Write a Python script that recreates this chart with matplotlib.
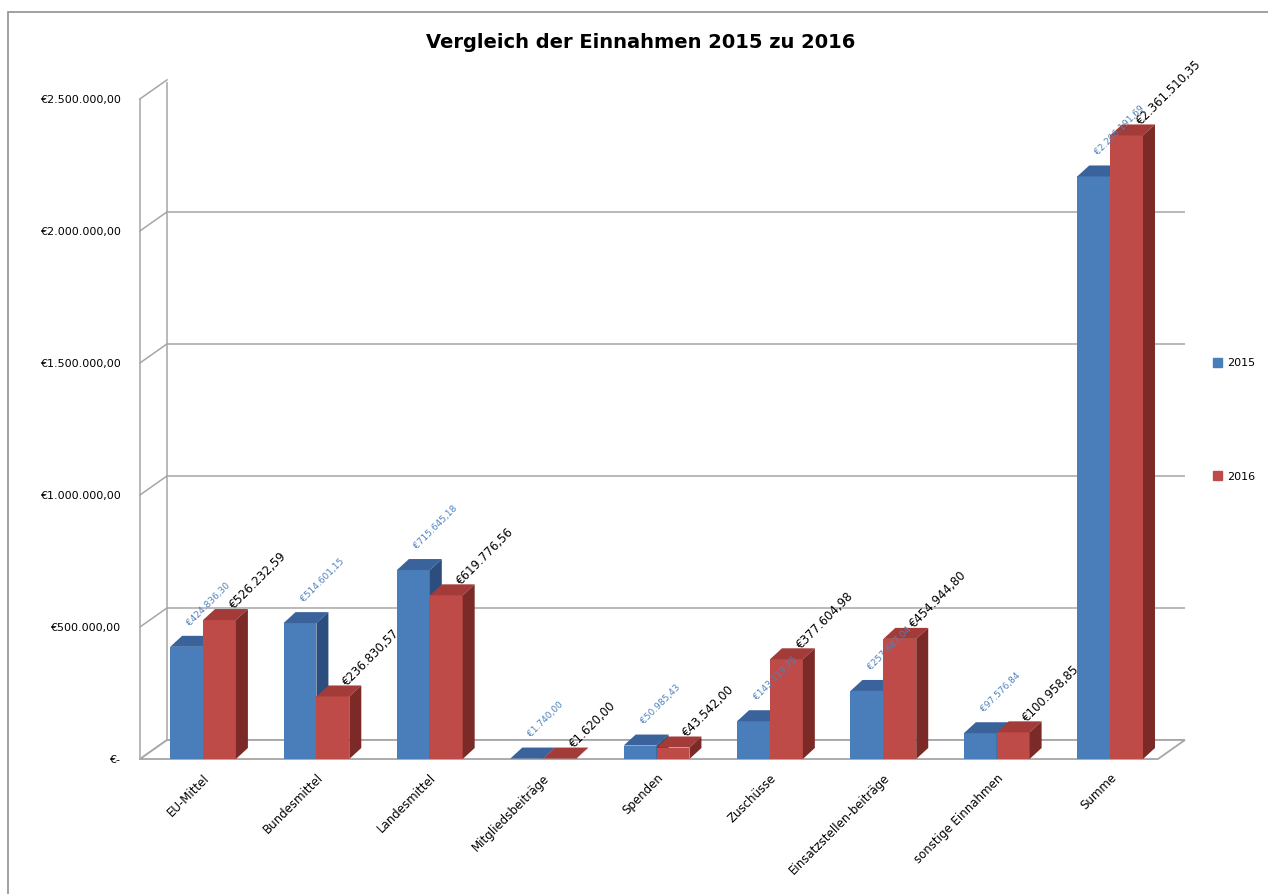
import matplotlib
matplotlib.use('Agg')
import matplotlib.pyplot as plt
from matplotlib.patches import Polygon, Rectangle, Patch
import numpy as np

# data
categories = ['EU-Mittel', 'Bundesmittel', 'Landesmittel', 'Mitgliedsbeiträge', 'Spenden',
              'Zuschüsse', 'Einsatzstellen-beiträge', 'sonstige Einnahmen', 'Summe']
einnahmen_2015 = [424836.30, 514601.15, 715645.18, 1740.00, 50985.43,
                  143119.75, 257687.04, 97576.84, 2206191.69]
einnahmen_2016 = [526232.59, 236830.57, 619776.56, 1620.00, 43542.00,
                  377604.98, 454944.80, 100958.85, 2361510.35]
jahre = ['2015', '2016']
y_ticks = [0, 500000, 1000000, 1500000, 2000000, 2500000]


def euro(v):
    if v == 0:
        return '€-'
    s = f'{v:,.2f}'.replace(',', 'X').replace('.', ',').replace('X', '.')
    return '€' + s


# colours: front, top, side
blue = ('#4A7EBB', '#3A639C', '#2C4E7E')
red = ('#BE4B48', '#A33B38', '#7C2A28')
grid_col = '#a6a6a6'

fig = plt.figure(figsize=(12.68, 8.94), dpi=100)
ax = fig.add_axes([0.1104, 0.1510, 0.8241, 0.7573])
x0, x1 = -0.556, 8.66
ax.set_xlim(x0, x1)
ax.set_ylim(0, 2.564e6)

# pseudo 3d depth, converted from pixels into data units
px_x = 113.4
px_y = 132 / 500000
depth_x, depth_y = 27 / px_x, 19 / px_y
bar_dx, bar_dy = 12 / px_x, 11 / px_y
w = 0.29
x = np.arange(len(categories))

# walls and grid
for v in y_ticks:
    ax.plot([x0 + depth_x, x1], [v + depth_y, v + depth_y], color=grid_col, lw=1.1, zorder=1)
    ax.plot([x0, x0 + depth_x], [v, v + depth_y], color=grid_col, lw=1.1, zorder=1, clip_on=False)
ax.plot([x0, x0], [0, y_ticks[-1]], color=grid_col, lw=1.1, zorder=1, clip_on=False)
ax.plot([x0 + depth_x, x0 + depth_x], [depth_y, y_ticks[-1] + depth_y], color=grid_col, lw=1.1, zorder=1)

# floor
floor = Polygon([(x0, 0), (x1 - depth_x, 0), (x1, depth_y), (x0 + depth_x, depth_y)],
                closed=True, facecolor='white', edgecolor=grid_col, lw=1.3, zorder=1.5, clip_on=False)
ax.add_patch(floor)

# bars
for s, (vals, cols) in enumerate([(einnahmen_2015, blue), (einnahmen_2016, red)]):
    lefts = x - w + s * w
    bars = ax.bar(lefts, vals, width=w, align='edge', color=cols[0], linewidth=0, label=jahre[s])
    for i, (b, l, v) in enumerate(zip(bars, lefts, vals)):
        z = 3 + i * 0.1 + s * 0.05
        b.set_zorder(z)
        top = Polygon([(l, v), (l + w, v), (l + w + bar_dx, v + bar_dy), (l + bar_dx, v + bar_dy)],
                      closed=True, facecolor=cols[1], lw=0, zorder=z)
        side = Polygon([(l + w, 0), (l + w + bar_dx, bar_dy), (l + w + bar_dx, v + bar_dy), (l + w, v)],
                       closed=True, facecolor=cols[2], lw=0, zorder=z)
        ax.add_patch(top)
        ax.add_patch(side)

# value labels
for i in range(len(categories)):
    ax.annotate(euro(einnahmen_2015[i]), xy=(x[i] - w / 2, einnahmen_2015[i]),
                xytext=(4, 14), textcoords='offset points', rotation=45,
                rotation_mode='anchor', ha='left', va='bottom', fontsize=6.5,
                color='#4F81BD', zorder=10)
    ax.annotate(euro(einnahmen_2016[i]), xy=(x[i] + w / 2, einnahmen_2016[i]),
                xytext=(12, 6), textcoords='offset points', rotation=45,
                rotation_mode='anchor', ha='left', va='bottom', fontsize=8.5,
                color='black', zorder=10)

ax.set_yticks(y_ticks, [euro(v) for v in y_ticks])
ax.set_xticks(x, categories)
for lab in ax.get_xticklabels():
    lab.set_rotation(45)
    lab.set_ha('right')
    lab.set_rotation_mode('anchor')
ax.tick_params(axis='y', length=0, pad=14, labelsize=8)
ax.tick_params(axis='x', length=0, pad=9, labelsize=8.5)
for sp in ax.spines.values():
    sp.set_visible(False)
ax.patch.set_visible(False)

fig.text(0.505, 1 - 42 / 894, 'Vergleich der Einnahmen 2015 zu 2016',
         ha='center', va='center', fontsize=14, fontweight='bold')

fig.legend(handles=[Patch(color=blue[0], label=jahre[0]), Patch(color=red[0], label=jahre[1])],
           loc='upper left', bbox_to_anchor=(1203 / 1268, 1 - 348 / 894), frameon=False,
           fontsize=8, handlelength=0.8, handleheight=0.8, handletextpad=0.5, labelspacing=9.3)

# outer chart frame
fig.add_artist(Rectangle((8 / 1268, -0.05), 1.2, 1 - 12 / 894 + 0.05, transform=fig.transFigure,
                         fill=False, edgecolor='#999999', lw=1.3))

fig.savefig('out.png', dpi=100)
